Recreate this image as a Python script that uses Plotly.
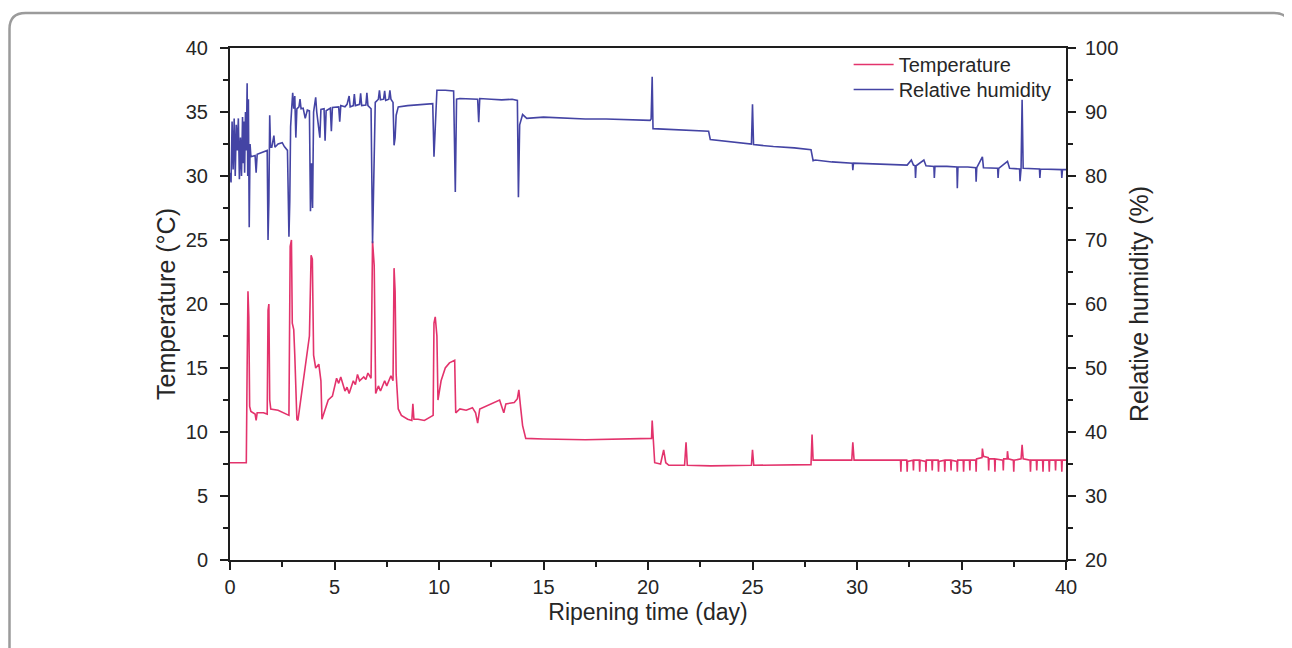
import plotly.graph_objects as go

# ---------------- data ----------------
temp_points = [
    (0.0, 7.6), (0.4, 7.6), (0.78, 7.6), (0.82, 15.0), (0.86, 21.0), (0.90, 19.0),
    (0.94, 12.0), (1.0, 11.6), (1.2, 11.4), (1.25, 10.9), (1.3, 11.5), (1.6, 11.5),
    (1.78, 11.4), (1.82, 19.5), (1.86, 20.0), (1.9, 12.5), (1.95, 11.8), (2.3, 11.7),
    (2.6, 11.5), (2.82, 11.3), (2.88, 24.5), (2.94, 25.0), (2.98, 18.5), (3.05, 18.0),
    (3.1, 16.0), (3.2, 11.0), (3.25, 10.9), (3.5, 14.0), (3.8, 17.5), (3.88, 23.8),
    (3.94, 23.5), (4.0, 16.0), (4.1, 15.0), (4.25, 15.3), (4.35, 14.0), (4.4, 11.0),
    (4.5, 11.5), (4.7, 12.5), (4.9, 12.8), (5.0, 13.5), (5.1, 14.2), (5.2, 13.8),
    (5.3, 14.3), (5.5, 13.2), (5.6, 13.5), (5.7, 13.0), (5.9, 14.0), (6.0, 13.7),
    (6.1, 14.5), (6.2, 14.0), (6.4, 14.3), (6.5, 14.1), (6.6, 14.6), (6.75, 14.2),
    (6.82, 24.9), (6.9, 23.0), (6.97, 13.0), (7.1, 13.6), (7.2, 13.2), (7.4, 14.0),
    (7.5, 13.6), (7.7, 14.4), (7.8, 14.0), (7.85, 22.8), (7.9, 21.0), (7.95, 14.5),
    (8.05, 11.8), (8.2, 11.3), (8.5, 11.0), (8.7, 10.9), (8.75, 12.2), (8.8, 11.0),
    (9.0, 11.0), (9.3, 10.9), (9.6, 11.2), (9.72, 11.3), (9.76, 18.5), (9.82, 19.0),
    (9.9, 17.5), (9.95, 12.5), (10.1, 14.0), (10.3, 15.0), (10.5, 15.4), (10.75, 15.6),
    (10.8, 11.5), (11.0, 11.8), (11.3, 11.7), (11.6, 11.9), (11.75, 11.5), (11.85, 10.7),
    (11.95, 11.8), (12.2, 12.0), (12.6, 12.3), (12.9, 12.5), (13.0, 12.0), (13.1, 11.5),
    (13.2, 12.2), (13.6, 12.3), (13.75, 12.6), (13.82, 13.3), (13.9, 12.0), (14.0, 10.5),
    (14.15, 9.5), (15.0, 9.45), (17.0, 9.4), (19.0, 9.45), (20.1, 9.45), (20.17, 9.5),
    (20.2, 10.9), (20.25, 9.5), (20.32, 7.6), (20.6, 7.5), (20.75, 8.6), (20.85, 7.6),
    (21.0, 7.4), (21.75, 7.4), (21.82, 9.2), (21.88, 7.4), (23.0, 7.35), (24.95, 7.4),
    (25.0, 8.6), (25.06, 7.4), (27.8, 7.45), (27.85, 9.8), (27.9, 7.8), (29.75, 7.8),
    (29.8, 9.2), (29.86, 7.8), (31.9, 7.75),
    (32.08, 7.8), (32.1, 6.9), (32.12, 7.8), (32.38, 7.8), (32.4, 6.9), (32.42, 7.7),
    (32.68, 7.8), (32.7, 7.0), (32.72, 7.8), (32.98, 7.8), (33.0, 6.9), (33.02, 7.8),
    (33.28, 7.7), (33.3, 6.9), (33.32, 7.8), (33.58, 7.8), (33.6, 7.0), (33.62, 7.8),
    (33.88, 7.8), (33.9, 6.9), (33.92, 7.7), (34.18, 7.8), (34.2, 6.9), (34.22, 7.8),
    (34.48, 7.8), (34.5, 7.0), (34.52, 7.8), (34.78, 7.7), (34.8, 6.9), (34.82, 7.8),
    (35.08, 7.8), (35.1, 6.9), (35.12, 7.8), (35.38, 7.8), (35.4, 7.0), (35.42, 7.8),
    (35.68, 7.8), (35.7, 6.9), (35.72, 7.9), (35.98, 8.0), (36.0, 8.7), (36.05, 8.1),
    (36.28, 8.0), (36.3, 7.0), (36.32, 7.9), (36.58, 7.9), (36.6, 6.9), (36.62, 7.9),
    (36.98, 7.8), (37.0, 7.0), (37.02, 7.9), (37.18, 7.9), (37.2, 8.5), (37.24, 7.9),
    (37.48, 7.8), (37.5, 6.9), (37.52, 7.8), (37.85, 7.9), (37.9, 9.0), (37.95, 7.9),
    (38.28, 7.8), (38.3, 6.9), (38.32, 7.8), (38.58, 7.8), (38.6, 7.0), (38.62, 7.8),
    (38.88, 7.8), (38.9, 6.9), (38.92, 7.8), (39.18, 7.8), (39.2, 6.9), (39.22, 7.8),
    (39.48, 7.8), (39.5, 7.0), (39.52, 7.8), (39.78, 7.8), (39.8, 6.9), (39.82, 7.8),
    (40.0, 7.8),
]

rh_points = [
    (0.0, 80.5), (0.05, 79.0), (0.1, 88.5), (0.15, 81.0), (0.2, 89.0), (0.25, 80.0),
    (0.3, 88.0), (0.35, 84.0), (0.4, 89.0), (0.45, 79.5), (0.5, 86.0), (0.55, 80.0),
    (0.6, 89.2), (0.63, 82.0), (0.67, 88.5), (0.7, 80.5), (0.74, 90.0), (0.78, 84.0),
    (0.82, 94.5), (0.85, 80.0), (0.88, 92.0), (0.92, 72.0), (0.96, 85.0), (1.0, 83.0),
    (1.2, 83.2), (1.25, 80.5), (1.3, 83.4), (1.5, 83.6), (1.7, 83.8), (1.78, 84.0),
    (1.82, 70.0), (1.86, 76.0), (1.9, 89.5), (1.94, 84.5), (2.0, 84.5), (2.1, 86.3),
    (2.15, 84.5), (2.3, 85.0), (2.5, 85.2), (2.6, 84.6), (2.75, 84.0), (2.82, 70.5),
    (2.86, 76.0), (2.9, 87.7), (2.95, 90.5), (3.0, 93.0), (3.05, 90.5), (3.1, 92.5),
    (3.15, 86.0), (3.2, 90.5), (3.3, 90.8), (3.35, 92.0), (3.4, 90.5), (3.5, 90.6),
    (3.6, 89.0), (3.7, 90.3), (3.8, 90.2), (3.85, 74.5), (3.9, 82.0), (3.95, 75.0),
    (4.0, 90.0), (4.1, 92.3), (4.15, 90.0), (4.3, 86.0), (4.35, 90.4), (4.5, 90.5),
    (4.55, 85.5), (4.6, 90.2), (4.8, 90.6), (4.85, 87.0), (4.9, 90.7), (5.2, 90.8),
    (5.25, 88.5), (5.3, 91.0), (5.5, 90.8), (5.6, 91.2), (5.7, 92.5), (5.75, 90.8),
    (5.9, 91.0), (5.95, 92.8), (6.0, 91.0), (6.2, 91.2), (6.25, 92.9), (6.3, 91.0),
    (6.5, 91.1), (6.55, 93.0), (6.6, 91.0), (6.75, 90.5), (6.82, 69.5), (6.88, 78.0),
    (6.95, 91.5), (7.1, 92.0), (7.15, 93.4), (7.2, 91.9), (7.35, 92.0), (7.4, 93.3),
    (7.45, 91.8), (7.6, 92.0), (7.65, 93.4), (7.7, 92.0), (7.8, 91.5), (7.85, 84.8),
    (7.9, 86.0), (7.95, 89.5), (8.05, 90.8), (8.5, 91.0), (9.0, 91.1), (9.5, 91.2),
    (9.7, 91.3), (9.76, 83.0), (9.82, 88.0), (9.9, 93.4), (10.3, 93.4), (10.7, 93.3),
    (10.78, 77.5), (10.84, 92.0), (11.0, 92.1), (11.5, 92.0), (11.85, 92.0), (11.9, 88.4),
    (11.95, 92.1), (12.5, 92.0), (13.0, 91.9), (13.5, 92.0), (13.75, 91.8), (13.8, 76.7),
    (13.86, 88.0), (14.0, 89.6), (14.2, 89.0), (15.0, 89.2), (16.0, 89.0), (17.0, 88.9),
    (18.0, 88.9), (19.0, 88.8), (20.1, 88.7), (20.15, 88.9), (20.2, 95.5), (20.24, 87.4),
    (21.0, 87.3), (21.5, 87.2), (22.0, 87.1), (22.9, 87.0), (22.98, 85.7), (23.5, 85.5),
    (24.5, 85.2), (24.95, 85.0), (25.0, 91.2), (25.05, 84.9), (26.0, 84.6), (27.0, 84.4),
    (27.8, 84.1), (27.9, 82.4), (28.0, 82.5), (28.8, 82.2), (29.78, 82.0), (29.8, 80.9),
    (29.83, 82.0), (30.5, 81.9), (31.5, 81.8), (32.4, 81.7), (32.6, 82.5), (32.7, 81.7),
    (32.78, 81.6), (32.8, 79.7), (32.83, 81.6), (33.2, 82.5), (33.3, 81.6), (33.68, 81.5),
    (33.7, 79.7), (33.73, 81.5), (34.3, 81.5), (34.78, 81.4), (34.8, 78.1), (34.83, 81.4),
    (35.3, 81.4), (35.68, 81.3), (35.7, 79.1), (35.73, 81.3), (36.0, 83.0), (36.05, 81.3),
    (36.73, 81.2), (36.75, 79.7), (36.78, 81.2), (37.2, 82.3), (37.3, 81.2), (37.78, 81.1),
    (37.8, 79.2), (37.85, 81.2), (37.9, 91.9), (37.95, 81.2), (38.73, 81.1), (38.75, 79.7),
    (38.78, 81.1), (39.3, 81.0), (39.78, 81.0), (39.8, 79.7), (39.83, 81.0), (40.0, 81.0),
]

temp_day = [p[0] for p in temp_points]
temp_c = [p[1] for p in temp_points]
rh_day = [p[0] for p in rh_points]
rh_pct = [p[1] for p in rh_points]

x_ticks = [0, 5, 10, 15, 20, 25, 30, 35, 40]
temp_ticks = [0, 5, 10, 15, 20, 25, 30, 35, 40]
rh_ticks = [20, 30, 40, 50, 60, 70, 80, 90, 100]

# ---------------- styling ----------------
TEMP_COLOR = "#e3336c"
RH_COLOR = "#4444a4"
AXIS_COLOR = "#1e1e1e"
TEXT_COLOR = "#262626"
FONT = "Liberation Sans, Arial, sans-serif"

W, H = 1292, 648
# the page body adds an 8px offset, margins compensate for it
ML, MR, MT, MB = 222, 234, 40, 96

fig = go.Figure()
fig.add_trace(go.Scatter(x=temp_day, y=temp_c, mode="lines", name="Temperature",
                         line=dict(color=TEMP_COLOR, width=1.6), yaxis="y",
                         legend="legend"))
fig.add_trace(go.Scatter(x=rh_day, y=rh_pct, mode="lines", name="Relative humidity",
                         line=dict(color=RH_COLOR, width=1.6), yaxis="y2",
                         legend="legend2"))

axis_common = dict(
    showgrid=False, zeroline=False, showline=True, linecolor=AXIS_COLOR, linewidth=2,
    ticks="outside", ticklen=8, tickwidth=1.5, tickcolor=AXIS_COLOR,
    tickfont=dict(family=FONT, size=20, color=TEXT_COLOR),
)

legend_common = dict(xanchor="left", yanchor="top", bgcolor="rgba(0,0,0,0)",
                     borderwidth=0, font=dict(family=FONT, size=20, color=TEXT_COLOR),
                     itemwidth=40)

fig.update_layout(
    width=W, height=H,
    margin=dict(l=ML, r=MR, t=MT, b=MB),
    paper_bgcolor="white", plot_bgcolor="white",
    font=dict(family=FONT, color=TEXT_COLOR),
    showlegend=True,
    legend=dict(x=0.740, y=1.006, **legend_common),
    legend2=dict(x=0.740, y=0.957, **legend_common),
    xaxis=dict(range=[0, 40], tickvals=x_ticks, mirror=True,
               minor=dict(ticks="outside", ticklen=5, tickwidth=1.5, dtick=2.5,
                          tickcolor=AXIS_COLOR),
               title=dict(text="Ripening time (day)", font=dict(family=FONT, size=23, color=TEXT_COLOR),
                          standoff=7),
               **axis_common),
    yaxis=dict(range=[0, 40], tickvals=temp_ticks, ticklabelstandoff=8,
               minor=dict(ticks="outside", ticklen=5, tickwidth=1.5, dtick=2.5,
                          tickcolor=AXIS_COLOR),
               title=dict(text="Temperature (°C)", font=dict(family=FONT, size=25, color=TEXT_COLOR),
                          standoff=3),
               **axis_common),
    yaxis2=dict(range=[20, 100], tickvals=rh_ticks, overlaying="y", side="right",
                ticklabelstandoff=5,
                minor=dict(ticks="outside", ticklen=5, tickwidth=1.5, dtick=5,
                           tickcolor=AXIS_COLOR),
                title=dict(text="Relative humidity (%)", font=dict(family=FONT, size=25, color=TEXT_COLOR),
                           standoff=13),
                **axis_common),
)

# rounded frame around the figure (top part visible, open at the bottom)
pw, ph = W - ML - MR, H - MT - MB
def px2x(p):
    return (p - ML) / pw
def py2y(p):
    return (H - MB - p) / ph
x0, x1 = px2x(1.5), px2x(1282)
yt, yb = py2y(5), py2y(700)
rx, ry = 16 / pw, 16 / ph
path = (f"M {x0},{yb} L {x0},{yt - ry} Q {x0},{yt} {x0 + rx},{yt} "
        f"L {x1 - rx},{yt} Q {x1},{yt} {x1},{yt - ry} L {x1},{yb}")
fig.add_shape(type="path", path=path, xref="paper", yref="paper",
              line=dict(color="#9b9b9b", width=2.5), layer="below")

fig.write_html("out.html")
